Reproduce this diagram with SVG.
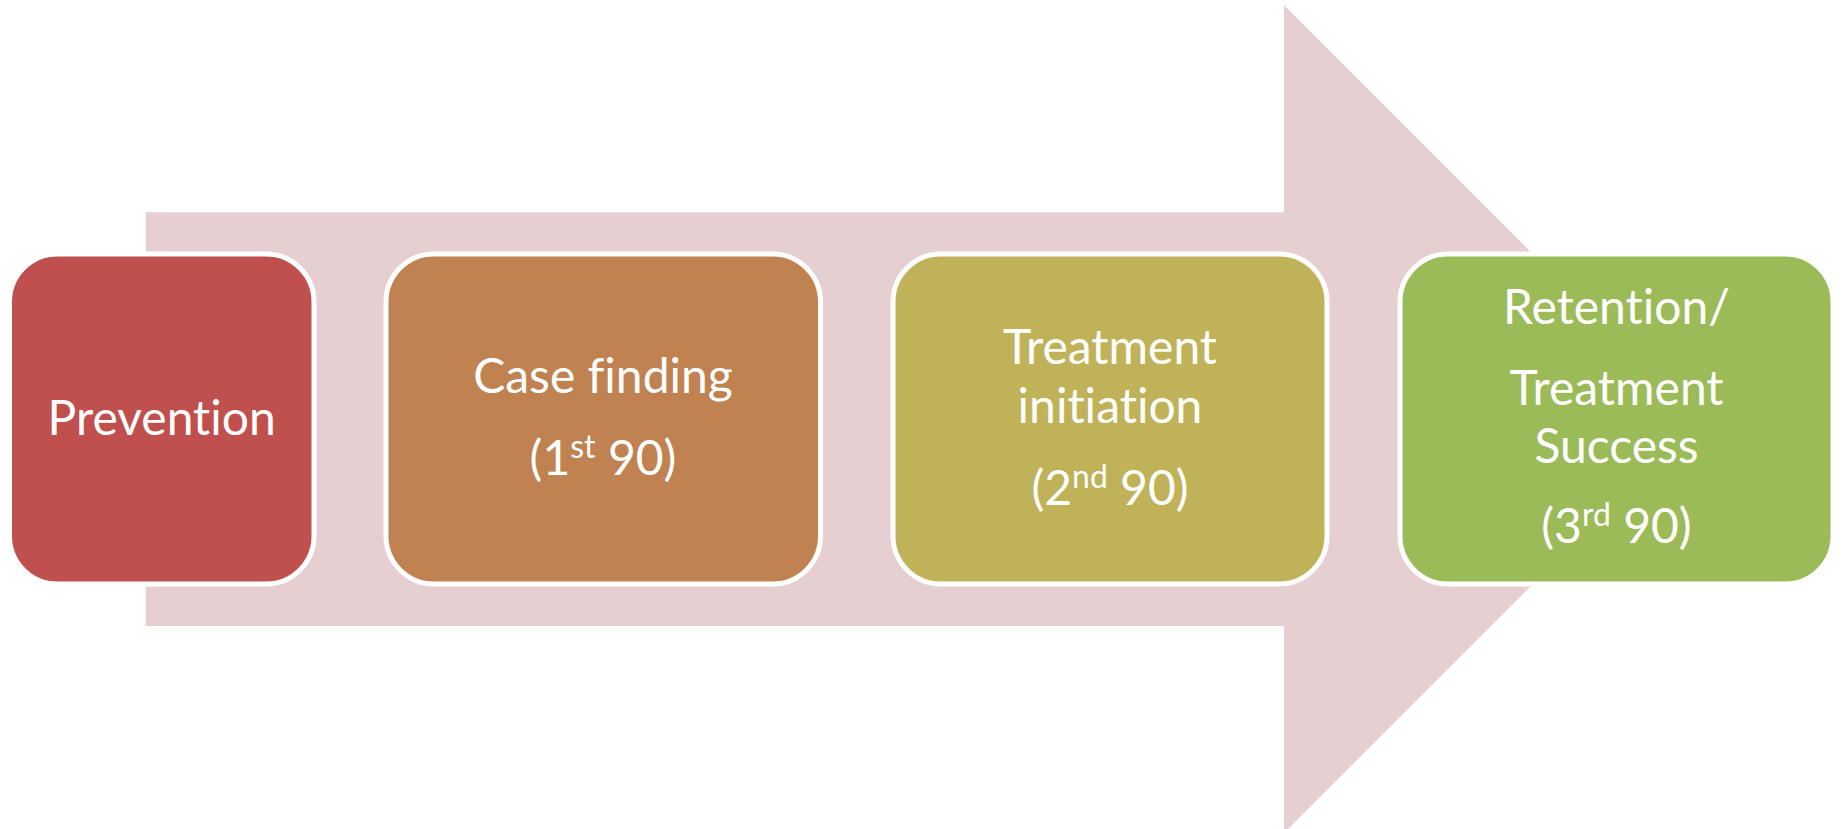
<svg xmlns="http://www.w3.org/2000/svg" width="1843" height="829" viewBox="0 0 1843 829">
  <style>
    .box { stroke: #FFFFFF; stroke-width: 5; }
    .lbl { font-family: "Lato", "Open Sans", sans-serif; font-size: 48px; fill: #FFFFFF; text-anchor: middle; font-variant-ligatures: none; font-feature-settings: "liga" 0, "clig" 0, "dlig" 0; }
    .sup { font-size: 32px; }
  </style>
  <rect width="1843" height="829" fill="#FFFFFF"/>
  <g id="arrow">
    <polygon points="145.7,212.3 1284,212.3 1284,5.3 1697.8,419.2 1284,833 1284,626 145.7,626" fill="#E6CFD0"/>
  </g>
  <g id="connectors"></g>
  <g id="node-prevention">
    <rect class="box" x="9.5" y="254" width="304.5" height="330" rx="48" ry="48" fill="#C0504D"/>
    <text class="lbl" x="161.7" y="435">Prevention</text>
  </g>
  <g id="node-case-finding">
    <rect class="box" x="386" y="254" width="434.5" height="330" rx="48" ry="48" fill="#BF8250"/>
    <text class="lbl" x="603" y="393">Case finding</text>
    <text class="lbl" x="603" y="475">(1<tspan class="sup" dy="-17">st</tspan><tspan dy="17"> 90)</tspan></text>
  </g>
  <g id="node-treatment-initiation">
    <rect class="box" x="893" y="254" width="434" height="330" rx="48" ry="48" fill="#BFB258"/>
    <text class="lbl" x="1110" y="364">Treatment</text>
    <text class="lbl" x="1110" y="423">initiation</text>
    <text class="lbl" x="1110" y="505">(2<tspan class="sup" dy="-17">nd</tspan><tspan dy="17"> 90)</tspan></text>
  </g>
  <g id="node-retention">
    <rect class="box" x="1400" y="254" width="433" height="330" rx="48" ry="48" fill="#9BBB59"/>
    <text class="lbl" x="1616.5" y="324">Retention/</text>
    <text class="lbl" x="1616.5" y="405">Treatment</text>
    <text class="lbl" x="1616.5" y="463">Success</text>
    <text class="lbl" x="1616.5" y="543">(3<tspan class="sup" dy="-17">rd</tspan><tspan dy="17"> 90)</tspan></text>
  </g>
</svg>
